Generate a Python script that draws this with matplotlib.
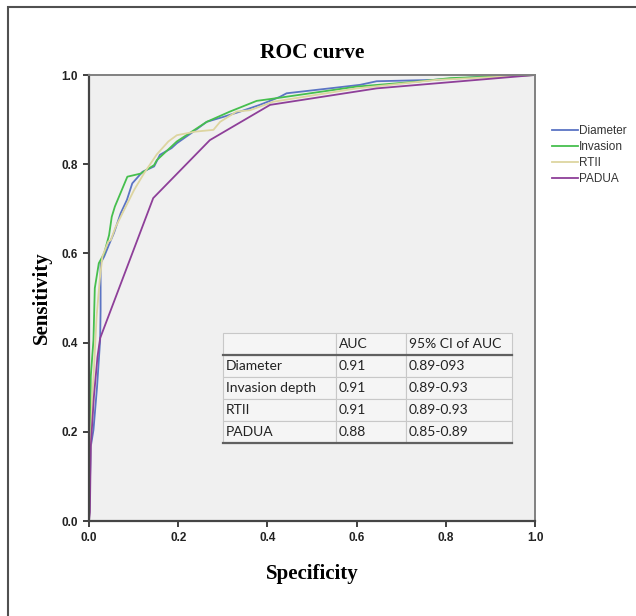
import matplotlib
matplotlib.use("Agg")
import matplotlib.pyplot as plt
from matplotlib.patches import Rectangle

# ROC curve points (1 - specificity on x, sensitivity on y)
diam_x = [0, 0.002, 0.004, 0.01, 0.018, 0.025, 0.026, 0.026, 0.034, 0.045, 0.056, 0.071, 0.085,
          0.097, 0.12, 0.146, 0.159, 0.185, 0.197, 0.234, 0.264, 0.301, 0.339, 0.383, 0.428,
          0.443, 0.548, 0.608, 0.645, 0.772, 0.884, 1.0]
diam_y = [0, 0.08, 0.167, 0.204, 0.30, 0.406, 0.473, 0.578, 0.593, 0.62, 0.646, 0.69, 0.72,
          0.757, 0.783, 0.795, 0.821, 0.836, 0.847, 0.873, 0.895, 0.906, 0.918, 0.933, 0.951,
          0.959, 0.971, 0.978, 0.986, 0.989, 0.996, 1.0]

inv_x = [0, 0.002, 0.004, 0.01, 0.013, 0.022, 0.034, 0.045, 0.051, 0.058, 0.086, 0.116, 0.146,
         0.152, 0.197, 0.264, 0.316, 0.376, 0.413, 0.60, 0.735, 0.81, 1.0]
inv_y = [0, 0.15, 0.324, 0.406, 0.522, 0.578, 0.60, 0.641, 0.682, 0.705, 0.772, 0.779, 0.798,
         0.809, 0.851, 0.895, 0.918, 0.942, 0.947, 0.974, 0.985, 0.993, 1.0]

rtii_x = [0, 0.003, 0.007, 0.011, 0.017, 0.024, 0.03, 0.043, 0.049, 0.06, 0.071, 0.085, 0.101,
          0.123, 0.152, 0.178, 0.197, 0.238, 0.279, 0.294, 0.331, 0.361, 0.383, 0.413, 0.60,
          0.779, 1.0]
rtii_y = [0, 0.15, 0.27, 0.339, 0.458, 0.54, 0.593, 0.626, 0.630, 0.66, 0.682, 0.71, 0.742,
          0.779, 0.822, 0.851, 0.865, 0.873, 0.877, 0.895, 0.918, 0.921, 0.929, 0.94, 0.970,
          0.989, 1.0]

padua_x = [0, 0.002, 0.004, 0.011, 0.019, 0.025, 0.144, 0.271, 0.406, 0.645, 1.0]
padua_y = [0, 0.02, 0.167, 0.279, 0.368, 0.41, 0.724, 0.854, 0.933, 0.970, 1.0]

labels = ["Diameter", "Invasion", "RTII", "PADUA"]
colors = ["#5b74c4", "#46bf4e", "#ddd5a0", "#8e3f99"]

# table in the plot
tbl_cols = ["", "AUC", "95% CI of AUC"]
tbl_rows = ["Diameter", "Invasion depth", "RTII", "PADUA"]
tbl_auc = ["0.91", "0.91", "0.91", "0.88"]
tbl_ci = ["0.89-093", "0.89-0.93", "0.89-0.93", "0.85-0.89"]

ticks = [0.0, 0.2, 0.4, 0.6, 0.8, 1.0]

fig = plt.figure(figsize=(6.36, 6.16), dpi=100)
ax = fig.add_axes([89/636, 95/616, 446/636, 446/616])
ax.set_facecolor("#f0f0f0")

series = [(diam_x, diam_y), (inv_x, inv_y), (rtii_x, rtii_y), (padua_x, padua_y)]
for (xs, ys), lab, c in zip(series, labels, colors):
    ax.plot(xs, ys, color=c, lw=1.3, label=lab)

ax.set_xlim(0, 1)
ax.set_ylim(0, 1)
ax.set_xticks(ticks)
ax.set_yticks(ticks)
ax.set_xticklabels(["%.1f" % t for t in ticks], fontweight="bold", fontsize=8.5,
                   family="Liberation Sans", color="#222222")
ax.set_yticklabels(["%.1f" % t for t in ticks], fontweight="bold", fontsize=8.5,
                   family="Liberation Sans", color="#222222")
ax.tick_params(direction="out", length=4, width=1.4, color="#404040", pad=4)
for s in ["left", "bottom"]:
    ax.spines[s].set_color("#454545")
    ax.spines[s].set_linewidth(1.6)
for s in ["top", "right"]:
    ax.spines[s].set_color("#808080")
    ax.spines[s].set_linewidth(1.4)

ax.set_title("ROC curve", family="Liberation Serif", fontweight="bold", fontsize=15.5, pad=12)
ax.set_xlabel("Specificity", family="Liberation Serif", fontweight="bold", fontsize=15, labelpad=14)
ax.set_ylabel("Sensitivity", family="Liberation Serif", fontweight="bold", fontsize=15, labelpad=7)

# AUC table
cells = [[r, a, c] for r, a, c in zip(tbl_rows, tbl_auc, tbl_ci)]
bx0, by0, bw, bh = 0.300, 0.174, 0.648, 0.247
tb = ax.table(cellText=cells, colLabels=tbl_cols, cellLoc="left", colLoc="left",
              colWidths=[0.393, 0.240, 0.367], bbox=[bx0, by0, bw, bh])
tb.auto_set_font_size(False)
for (r, c), cell in tb.get_celld().items():
    cell.set_facecolor("#f5f5f5")
    cell.set_edgecolor("#c8c8c8")
    cell.set_linewidth(0.8)
    cell.PAD = 0.03
    cell.get_text().set_fontsize(10)
    cell.get_text().set_family("Lato")
    cell.get_text().set_color("#222222")
row_h = bh / 5
ax.plot([bx0, bx0 + bw], [by0 + 4 * row_h, by0 + 4 * row_h], transform=ax.transAxes,
        color="#606060", lw=1.6, zorder=10)
ax.plot([bx0, bx0 + bw], [by0, by0], transform=ax.transAxes,
        color="#606060", lw=1.6, zorder=10)

fig.legend(loc="upper left", bbox_to_anchor=(552/636, 1 - 125/616), frameon=False,
           prop={"family": "Liberation Sans", "size": 8.5},
           handlelength=2.2, handletextpad=0.1, labelspacing=0.35,
           borderpad=0, borderaxespad=0, labelcolor="#333333")

# outer frame of the figure
fig.add_artist(Rectangle((8/636, -0.1), 1.2, 1.1 - 7/616, transform=fig.transFigure,
                         fill=False, edgecolor="#505050", lw=1.5, clip_on=False))

fig.savefig("out.png", dpi=100)
